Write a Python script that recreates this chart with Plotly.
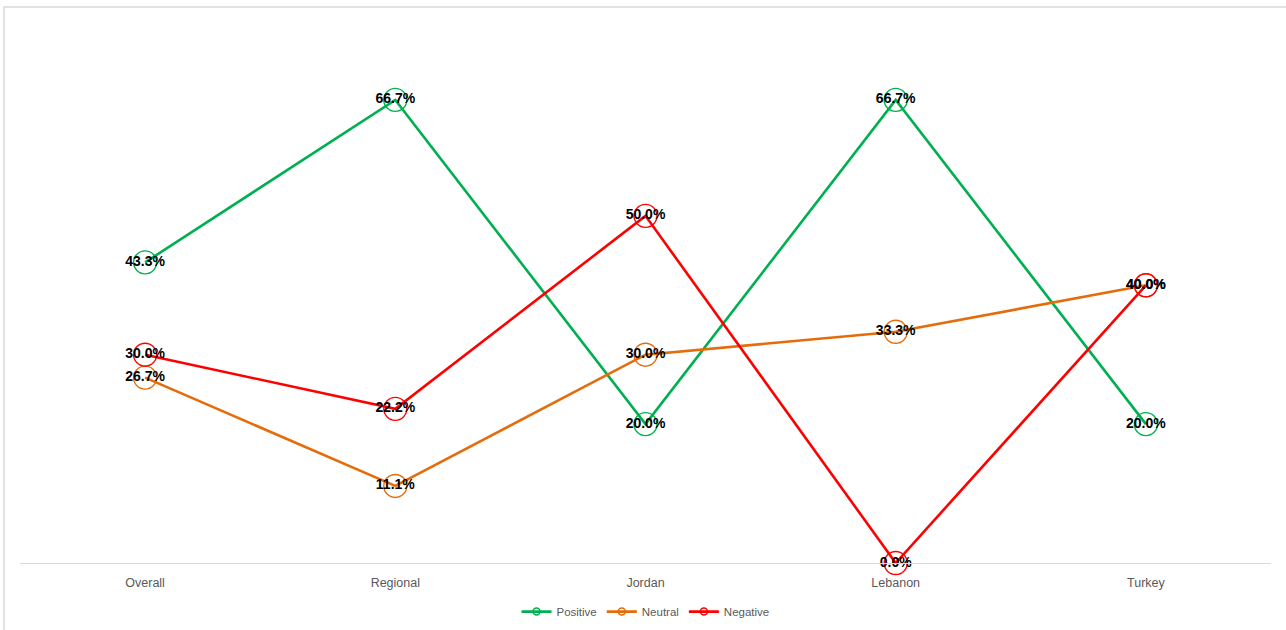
import plotly.graph_objects as go

# Share of responses by region
categories = ["Overall", "Regional", "Jordan", "Lebanon", "Turkey"]
positive = [43.3, 66.7, 20.0, 66.7, 20.0]
neutral = [26.7, 11.1, 30.0, 33.3, 40.0]
negative = [30.0, 22.2, 50.0, 0.0, 40.0]

series = [
    ("Positive", positive, "#00B050"),
    ("Neutral", neutral, "#E46C0A"),
    ("Negative", negative, "#FF0000"),
]

fig = go.Figure()

# lines with open circle markers
for name, values, color in series:
    fig.add_trace(go.Scatter(
        x=categories,
        y=values,
        mode="lines+markers",
        name=name,
        showlegend=False,
        line=dict(color=color, width=2.6),
        marker=dict(symbol="circle-open", size=23, color=color, line=dict(width=1.4, color=color)),
        cliponaxis=False,
    ))

# value labels drawn above all lines
for name, values, color in series:
    fig.add_trace(go.Scatter(
        x=categories,
        y=values,
        mode="text",
        showlegend=False,
        text=[f"{v:.1f}%" for v in values],
        textposition="middle center",
        textfont=dict(family="Liberation Sans, Arial, sans-serif", size=14, color="#000000", weight="bold"),
        cliponaxis=False,
        hoverinfo="skip",
    ))

# small legend entries
for name, values, color in series:
    fig.add_trace(go.Scatter(
        x=[None],
        y=[None],
        mode="lines+markers",
        name=name,
        line=dict(color=color, width=2.6),
        marker=dict(symbol="circle-open", size=7, color=color, line=dict(width=1.5, color=color)),
    ))

fig.update_layout(
    width=1286,
    height=630,
    margin=dict(l=20, r=15, t=77, b=67, autoexpand=False),
    paper_bgcolor="white",
    plot_bgcolor="white",
    font=dict(family="Liberation Sans, Arial, sans-serif", color="#595959"),
    xaxis=dict(
        type="category",
        range=[-0.5, 4.5],
        showgrid=False,
        zeroline=False,
        showline=True,
        linecolor="#d9d9d9",
        linewidth=1.2,
        ticks="",
        tickfont=dict(size=12.5, color="#595959"),
        ticklabelstandoff=8,
    ),
    yaxis=dict(
        range=[0, 70],
        showgrid=False,
        zeroline=False,
        showline=False,
        showticklabels=False,
        ticks="",
    ),
    legend=dict(
        orientation="h",
        x=0.5,
        xanchor="center",
        y=-0.1,
        yanchor="middle",
        font=dict(size=11.5, color="#595959"),
        itemwidth=30,
        tracegroupgap=0,
    ),
    shapes=[
        dict(
            type="rect",
            xref="paper",
            yref="paper",
            x0=(4 - 20) / 1251,
            x1=(1300 - 20) / 1251,
            y0=(563 - 650) / 486,
            y1=(563 - 7) / 486,
            line=dict(color="#d9d9d9", width=1.5),
            fillcolor="rgba(0,0,0,0)",
            layer="below",
        )
    ],
)

fig.write_html("out.html")
